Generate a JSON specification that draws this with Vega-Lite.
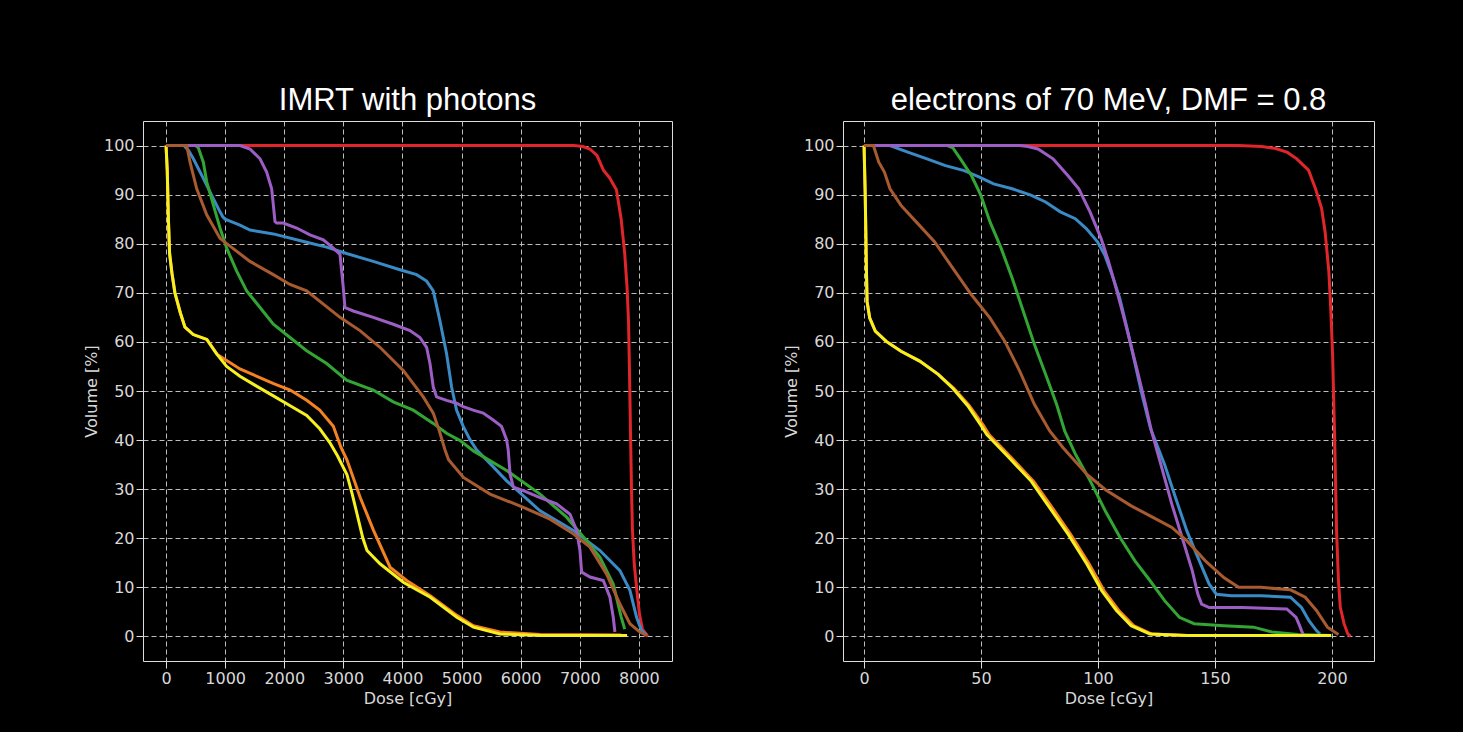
{
  "background": "#000000",
  "padding": {"left": 82, "top": 84, "right": 89, "bottom": 26},
  "spacing": 109,
  "hconcat": [
    {
      "width": 529,
      "height": 540,
      "title": "IMRT with photons",
      "layer": [
        {
          "data": {"values": [
      {"organ":"PTV","dose":0,"vol":100},{"organ":"PTV","dose":6900,"vol":100},{"organ":"PTV","dose":7050,"vol":99.8},{"organ":"PTV","dose":7170,"vol":99.3},{"organ":"PTV","dose":7290,"vol":98},{"organ":"PTV","dose":7400,"vol":95},{"organ":"PTV","dose":7500,"vol":93.5},{"organ":"PTV","dose":7620,"vol":91},{"organ":"PTV","dose":7700,"vol":85},{"organ":"PTV","dose":7760,"vol":78},{"organ":"PTV","dose":7800,"vol":71},{"organ":"PTV","dose":7825,"vol":64},{"organ":"PTV","dose":7845,"vol":51},{"organ":"PTV","dose":7860,"vol":40},{"organ":"PTV","dose":7875,"vol":30},{"organ":"PTV","dose":7890,"vol":22},{"organ":"PTV","dose":7920,"vol":15},{"organ":"PTV","dose":7960,"vol":10},{"organ":"PTV","dose":8010,"vol":4.5},{"organ":"PTV","dose":8060,"vol":1.5},{"organ":"PTV","dose":8150,"vol":0},
      {"organ":"rectum","dose":0,"vol":100},{"organ":"rectum","dose":300,"vol":100},{"organ":"rectum","dose":380,"vol":99},{"organ":"rectum","dose":462,"vol":97.3},{"organ":"rectum","dose":631,"vol":93.3},{"organ":"rectum","dose":800,"vol":89.2},{"organ":"rectum","dose":913,"vol":86.5},{"organ":"rectum","dose":960,"vol":85.5},{"organ":"rectum","dose":1000,"vol":85},{"organ":"rectum","dose":1082,"vol":84.6},{"organ":"rectum","dose":1251,"vol":83.8},{"organ":"rectum","dose":1420,"vol":82.8},{"organ":"rectum","dose":1815,"vol":82},{"organ":"rectum","dose":2379,"vol":80.3},{"organ":"rectum","dose":2717,"vol":79.3},{"organ":"rectum","dose":3055,"vol":78},{"organ":"rectum","dose":3506,"vol":76.4},{"organ":"rectum","dose":3957,"vol":74.7},{"organ":"rectum","dose":4239,"vol":73.7},{"organ":"rectum","dose":4408,"vol":72.4},{"organ":"rectum","dose":4521,"vol":70.4},{"organ":"rectum","dose":4634,"vol":64.3},{"organ":"rectum","dose":4746,"vol":57.6},{"organ":"rectum","dose":4831,"vol":50.8},{"organ":"rectum","dose":4915,"vol":46.1},{"organ":"rectum","dose":5028,"vol":42.8},{"organ":"rectum","dose":5141,"vol":40.1},{"organ":"rectum","dose":5254,"vol":38},{"organ":"rectum","dose":5500,"vol":35},{"organ":"rectum","dose":5763,"vol":31.7},{"organ":"rectum","dose":6327,"vol":25.6},{"organ":"rectum","dose":6890,"vol":21.6},{"organ":"rectum","dose":7341,"vol":17.5},{"organ":"rectum","dose":7679,"vol":13.4},{"organ":"rectum","dose":7848,"vol":9.4},{"organ":"rectum","dose":7961,"vol":3.9},{"organ":"rectum","dose":8045,"vol":1.2},{"organ":"rectum","dose":8130,"vol":0.3},
      {"organ":"anus","dose":0,"vol":100},{"organ":"anus","dose":500,"vol":100},{"organ":"anus","dose":547,"vol":99.5},{"organ":"anus","dose":631,"vol":96.6},{"organ":"anus","dose":688,"vol":92.6},{"organ":"anus","dose":800,"vol":87.9},{"organ":"anus","dose":913,"vol":83.2},{"organ":"anus","dose":1026,"vol":79.1},{"organ":"anus","dose":1195,"vol":74.4},{"organ":"anus","dose":1364,"vol":70.4},{"organ":"anus","dose":1590,"vol":67},{"organ":"anus","dose":1815,"vol":63.6},{"organ":"anus","dose":2097,"vol":60.9},{"organ":"anus","dose":2379,"vol":58.2},{"organ":"anus","dose":2717,"vol":55.6},{"organ":"anus","dose":3055,"vol":52.2},{"organ":"anus","dose":3506,"vol":50.2},{"organ":"anus","dose":3844,"vol":47.8},{"organ":"anus","dose":4183,"vol":46.1},{"organ":"anus","dose":4521,"vol":43.4},{"organ":"anus","dose":4746,"vol":41.4},{"organ":"anus","dose":4975,"vol":39.9},{"organ":"anus","dose":5200,"vol":37.8},{"organ":"anus","dose":5763,"vol":33.8},{"organ":"anus","dose":6327,"vol":29},{"organ":"anus","dose":6777,"vol":24.3},{"organ":"anus","dose":7115,"vol":19.5},{"organ":"anus","dose":7341,"vol":16.1},{"organ":"anus","dose":7566,"vol":10.7},{"organ":"anus","dose":7700,"vol":4},{"organ":"anus","dose":7760,"vol":1.5},
      {"organ":"bulb","dose":0,"vol":100},{"organ":"bulb","dose":1251,"vol":100},{"organ":"bulb","dose":1420,"vol":99.3},{"organ":"bulb","dose":1590,"vol":97.3},{"organ":"bulb","dose":1702,"vol":94.6},{"organ":"bulb","dose":1787,"vol":91.2},{"organ":"bulb","dose":1815,"vol":87.9},{"organ":"bulb","dose":1843,"vol":84.5},{"organ":"bulb","dose":1871,"vol":84.2},{"organ":"bulb","dose":1984,"vol":84.2},{"organ":"bulb","dose":2210,"vol":83.2},{"organ":"bulb","dose":2435,"vol":81.8},{"organ":"bulb","dose":2661,"vol":80.8},{"organ":"bulb","dose":2830,"vol":79.1},{"organ":"bulb","dose":2943,"vol":77.8},{"organ":"bulb","dose":2971,"vol":74.4},{"organ":"bulb","dose":2999,"vol":71},{"organ":"bulb","dose":3027,"vol":67},{"organ":"bulb","dose":3168,"vol":66.3},{"organ":"bulb","dose":3506,"vol":65},{"organ":"bulb","dose":3844,"vol":63.6},{"organ":"bulb","dose":4127,"vol":62.3},{"organ":"bulb","dose":4296,"vol":60.9},{"organ":"bulb","dose":4408,"vol":58.9},{"organ":"bulb","dose":4465,"vol":55.6},{"organ":"bulb","dose":4521,"vol":50.8},{"organ":"bulb","dose":4577,"vol":48.8},{"organ":"bulb","dose":4746,"vol":48.1},{"organ":"bulb","dose":4915,"vol":47.5},{"organ":"bulb","dose":5028,"vol":46.8},{"organ":"bulb","dose":5197,"vol":46.1},{"organ":"bulb","dose":5366,"vol":45.5},{"organ":"bulb","dose":5535,"vol":44.1},{"organ":"bulb","dose":5676,"vol":42.8},{"organ":"bulb","dose":5761,"vol":40.1},{"organ":"bulb","dose":5789,"vol":38},{"organ":"bulb","dose":5820,"vol":33.1},{"organ":"bulb","dose":5876,"vol":30.4},{"organ":"bulb","dose":6045,"vol":29.7},{"organ":"bulb","dose":6327,"vol":28.3},{"organ":"bulb","dose":6608,"vol":27},{"organ":"bulb","dose":6834,"vol":24.9},{"organ":"bulb","dose":6946,"vol":21.6},{"organ":"bulb","dose":7003,"vol":17.5},{"organ":"bulb","dose":7031,"vol":13.1},{"organ":"bulb","dose":7172,"vol":12.1},{"organ":"bulb","dose":7397,"vol":11.4},{"organ":"bulb","dose":7510,"vol":8},{"organ":"bulb","dose":7566,"vol":3.9},{"organ":"bulb","dose":7594,"vol":0.9},
      {"organ":"femur_dx","dose":0,"vol":100},{"organ":"femur_dx","dose":20,"vol":95},{"organ":"femur_dx","dose":40,"vol":85},{"organ":"femur_dx","dose":60,"vol":78},{"organ":"femur_dx","dose":100,"vol":74},{"organ":"femur_dx","dose":150,"vol":70},{"organ":"femur_dx","dose":240,"vol":66},{"organ":"femur_dx","dose":320,"vol":63},{"organ":"femur_dx","dose":460,"vol":61.5},{"organ":"femur_dx","dose":690,"vol":60.5},{"organ":"femur_dx","dose":860,"vol":57.5},{"organ":"femur_dx","dose":1250,"vol":54.5},{"organ":"femur_dx","dose":1820,"vol":51.5},{"organ":"femur_dx","dose":2100,"vol":50.2},{"organ":"femur_dx","dose":2380,"vol":48.1},{"organ":"femur_dx","dose":2600,"vol":46.1},{"organ":"femur_dx","dose":2830,"vol":42.8},{"organ":"femur_dx","dose":2960,"vol":38.5},{"organ":"femur_dx","dose":3060,"vol":36},{"organ":"femur_dx","dose":3285,"vol":28.3},{"organ":"femur_dx","dose":3510,"vol":21.6},{"organ":"femur_dx","dose":3790,"vol":14.1},{"organ":"femur_dx","dose":4070,"vol":11.4},{"organ":"femur_dx","dose":4470,"vol":8.3},{"organ":"femur_dx","dose":4920,"vol":4.3},{"organ":"femur_dx","dose":5200,"vol":2.2},{"organ":"femur_dx","dose":5650,"vol":0.9},{"organ":"femur_dx","dose":6330,"vol":0.4},{"organ":"femur_dx","dose":7700,"vol":0.3},
      {"organ":"femur_sx","dose":0,"vol":100},{"organ":"femur_sx","dose":20,"vol":95},{"organ":"femur_sx","dose":40,"vol":85},{"organ":"femur_sx","dose":60,"vol":78},{"organ":"femur_sx","dose":100,"vol":74},{"organ":"femur_sx","dose":150,"vol":70},{"organ":"femur_sx","dose":240,"vol":66},{"organ":"femur_sx","dose":320,"vol":63},{"organ":"femur_sx","dose":460,"vol":61.5},{"organ":"femur_sx","dose":690,"vol":60.5},{"organ":"femur_sx","dose":860,"vol":57.5},{"organ":"femur_sx","dose":1025,"vol":55},{"organ":"femur_sx","dose":1250,"vol":53},{"organ":"femur_sx","dose":1530,"vol":51},{"organ":"femur_sx","dose":1815,"vol":49},{"organ":"femur_sx","dose":2100,"vol":47},{"organ":"femur_sx","dose":2380,"vol":45},{"organ":"femur_sx","dose":2600,"vol":42.3},{"organ":"femur_sx","dose":2770,"vol":39.5},{"organ":"femur_sx","dose":2900,"vol":36.8},{"organ":"femur_sx","dose":3060,"vol":33},{"organ":"femur_sx","dose":3150,"vol":29},{"organ":"femur_sx","dose":3230,"vol":25},{"organ":"femur_sx","dose":3330,"vol":20},{"organ":"femur_sx","dose":3400,"vol":17.5},{"organ":"femur_sx","dose":3620,"vol":14.8},{"organ":"femur_sx","dose":4020,"vol":11},{"organ":"femur_sx","dose":4470,"vol":8},{"organ":"femur_sx","dose":4920,"vol":3.9},{"organ":"femur_sx","dose":5200,"vol":1.9},{"organ":"femur_sx","dose":5650,"vol":0.5},{"organ":"femur_sx","dose":6330,"vol":0.2},{"organ":"femur_sx","dose":7800,"vol":0.2},
      {"organ":"bladder","dose":0,"vol":100},{"organ":"bladder","dose":350,"vol":100},{"organ":"bladder","dose":406,"vol":96.6},{"organ":"bladder","dose":519,"vol":91.2},{"organ":"bladder","dose":688,"vol":85.9},{"organ":"bladder","dose":913,"vol":81.1},{"organ":"bladder","dose":1082,"vol":79.5},{"organ":"bladder","dose":1420,"vol":76.4},{"organ":"bladder","dose":1815,"vol":73.7},{"organ":"bladder","dose":2097,"vol":71.7},{"organ":"bladder","dose":2379,"vol":70.4},{"organ":"bladder","dose":2943,"vol":65},{"organ":"bladder","dose":3281,"vol":62.3},{"organ":"bladder","dose":3619,"vol":58.9},{"organ":"bladder","dose":4013,"vol":54.2},{"organ":"bladder","dose":4352,"vol":48.8},{"organ":"bladder","dose":4521,"vol":45.5},{"organ":"bladder","dose":4620,"vol":42},{"organ":"bladder","dose":4720,"vol":38},{"organ":"bladder","dose":4780,"vol":36},{"organ":"bladder","dose":5031,"vol":32.4},{"organ":"bladder","dose":5482,"vol":29},{"organ":"bladder","dose":6045,"vol":26.3},{"organ":"bladder","dose":6496,"vol":23.9},{"organ":"bladder","dose":6890,"vol":20.9},{"organ":"bladder","dose":7172,"vol":18.2},{"organ":"bladder","dose":7454,"vol":12.7},{"organ":"bladder","dose":7679,"vol":6.6},{"organ":"bladder","dose":7848,"vol":2.6},{"organ":"bladder","dose":8017,"vol":0.9},{"organ":"bladder","dose":8130,"vol":0.2}
          ]},
          "mark": {"type": "line", "strokeWidth": 3},
          "encoding": {
            "x": {"field": "dose", "type": "quantitative", "scale": {"domain": [-390, 8560], "nice": false, "zero": false},
                  "axis": {"values": [0,1000,2000,3000,4000,5000,6000,7000,8000], "format": "d", "title": "Dose [cGy]"}},
            "y": {"field": "vol", "type": "quantitative", "scale": {"domain": [-5, 105], "nice": false, "zero": false},
                  "axis": {"values": [0,10,20,30,40,50,60,70,80,90,100], "title": "Volume [%]"}},
            "color": {"field": "organ", "type": "nominal",
              "scale": {"domain": ["PTV","rectum","anus","bulb","femur_dx","femur_sx","bladder","95% 95%"],
                        "range": ["#e0262a","#3a8ac6","#33a534","#9c5ec4","#f58220","#f5f01e","#a85a30","#f5a623"]},
              "legend": null
            }
          }
        }
      ]
    },
    {
      "width": 531,
      "height": 540,
      "title": "electrons of 70 MeV, DMF = 0.8",
      "layer": [
        {
          "data": {"values": [
      {"organ":"PTV","dose":0,"vol":100},{"organ":"PTV","dose":160,"vol":100},{"organ":"PTV","dose":170,"vol":99.8},{"organ":"PTV","dose":176,"vol":99.4},{"organ":"PTV","dose":181,"vol":98.6},{"organ":"PTV","dose":185,"vol":97.3},{"organ":"PTV","dose":190,"vol":95},{"organ":"PTV","dose":193,"vol":91.2},{"organ":"PTV","dose":195.6,"vol":87.2},{"organ":"PTV","dose":197.1,"vol":82.4},{"organ":"PTV","dose":198.7,"vol":74.3},{"organ":"PTV","dose":199.5,"vol":66.9},{"organ":"PTV","dose":200.3,"vol":57.4},{"organ":"PTV","dose":201.1,"vol":42},{"organ":"PTV","dose":202,"vol":21.5},{"organ":"PTV","dose":202.8,"vol":11.4},{"organ":"PTV","dose":203.6,"vol":5.9},{"organ":"PTV","dose":205.2,"vol":2.6},{"organ":"PTV","dose":206.8,"vol":0.5},{"organ":"PTV","dose":208,"vol":0},
      {"organ":"rectum","dose":0,"vol":100},{"organ":"rectum","dose":11,"vol":100},{"organ":"rectum","dose":19,"vol":98.6},{"organ":"rectum","dose":26.9,"vol":97.3},{"organ":"rectum","dose":34.8,"vol":95.9},{"organ":"rectum","dose":42.8,"vol":94.9},{"organ":"rectum","dose":49.1,"vol":93.6},{"organ":"rectum","dose":55.4,"vol":92.2},{"organ":"rectum","dose":63.3,"vol":91.2},{"organ":"rectum","dose":71.3,"vol":89.9},{"organ":"rectum","dose":77.6,"vol":88.5},{"organ":"rectum","dose":83.9,"vol":86.5},{"organ":"rectum","dose":90.3,"vol":85.1},{"organ":"rectum","dose":95,"vol":83.1},{"organ":"rectum","dose":99.8,"vol":80.4},{"organ":"rectum","dose":102.9,"vol":77.7},{"organ":"rectum","dose":106.1,"vol":73.6},{"organ":"rectum","dose":109.3,"vol":68.9},{"organ":"rectum","dose":112.4,"vol":62.8},{"organ":"rectum","dose":115.6,"vol":56.1},{"organ":"rectum","dose":118.8,"vol":49.3},{"organ":"rectum","dose":122.5,"vol":42.3},{"organ":"rectum","dose":128.5,"vol":35},{"organ":"rectum","dose":133.2,"vol":28.2},{"organ":"rectum","dose":138,"vol":21.5},{"organ":"rectum","dose":142.7,"vol":16.1},{"organ":"rectum","dose":147.5,"vol":10.7},{"organ":"rectum","dose":150.6,"vol":8.6},{"organ":"rectum","dose":157,"vol":8.3},{"organ":"rectum","dose":169.6,"vol":8.3},{"organ":"rectum","dose":182.3,"vol":8},{"organ":"rectum","dose":187,"vol":5.9},{"organ":"rectum","dose":190.2,"vol":3.2},{"organ":"rectum","dose":193.4,"vol":1.2},{"organ":"rectum","dose":194.9,"vol":0.5},
      {"organ":"anus","dose":0,"vol":100},{"organ":"anus","dose":35.6,"vol":100},{"organ":"anus","dose":38,"vol":99.5},{"organ":"anus","dose":41.2,"vol":97.3},{"organ":"anus","dose":45.9,"vol":93.9},{"organ":"anus","dose":49.9,"vol":89.9},{"organ":"anus","dose":53.8,"vol":84.5},{"organ":"anus","dose":58.6,"vol":79.1},{"organ":"anus","dose":63.3,"vol":73},{"organ":"anus","dose":68.1,"vol":66.2},{"organ":"anus","dose":72.8,"vol":59.5},{"organ":"anus","dose":77.6,"vol":53.4},{"organ":"anus","dose":82.3,"vol":47.3},{"organ":"anus","dose":85.8,"vol":41.8},{"organ":"anus","dose":90.5,"vol":37},{"organ":"anus","dose":96.8,"vol":31.6},{"organ":"anus","dose":103.2,"vol":25.5},{"organ":"anus","dose":109.5,"vol":20.1},{"organ":"anus","dose":115.8,"vol":15.4},{"organ":"anus","dose":122.2,"vol":11.4},{"organ":"anus","dose":128.5,"vol":7.3},{"organ":"anus","dose":134.8,"vol":3.9},{"organ":"anus","dose":141.1,"vol":2.6},{"organ":"anus","dose":153.8,"vol":2.2},{"organ":"anus","dose":166.5,"vol":1.9},{"organ":"anus","dose":174.4,"vol":0.9},{"organ":"anus","dose":185.4,"vol":0.4},{"organ":"anus","dose":199.7,"vol":0.2},
      {"organ":"bulb","dose":0,"vol":100},{"organ":"bulb","dose":66.5,"vol":100},{"organ":"bulb","dose":70,"vol":99.8},{"organ":"bulb","dose":74.4,"vol":99.3},{"organ":"bulb","dose":80.8,"vol":97.3},{"organ":"bulb","dose":87.1,"vol":93.9},{"organ":"bulb","dose":91.8,"vol":91.2},{"organ":"bulb","dose":96.6,"vol":86.5},{"organ":"bulb","dose":101.3,"vol":81.1},{"organ":"bulb","dose":104.5,"vol":76.4},{"organ":"bulb","dose":107.7,"vol":71},{"organ":"bulb","dose":110.8,"vol":65.5},{"organ":"bulb","dose":114,"vol":59.5},{"organ":"bulb","dose":117.2,"vol":53.4},{"organ":"bulb","dose":120.3,"vol":47.3},{"organ":"bulb","dose":122.9,"vol":41.8},{"organ":"bulb","dose":126.9,"vol":35},{"organ":"bulb","dose":131.6,"vol":26.9},{"organ":"bulb","dose":136.4,"vol":19.5},{"organ":"bulb","dose":140.3,"vol":13.4},{"organ":"bulb","dose":142.7,"vol":8.6},{"organ":"bulb","dose":144.3,"vol":6.6},{"organ":"bulb","dose":147.5,"vol":5.9},{"organ":"bulb","dose":161.7,"vol":5.9},{"organ":"bulb","dose":180.7,"vol":5.6},{"organ":"bulb","dose":184.7,"vol":3.9},{"organ":"bulb","dose":186.2,"vol":2.2},{"organ":"bulb","dose":187,"vol":1.2},{"organ":"bulb","dose":187.8,"vol":0.4},
      {"organ":"femur_dx","dose":0,"vol":100},{"organ":"femur_dx","dose":0.5,"vol":90},{"organ":"femur_dx","dose":1,"vol":75},{"organ":"femur_dx","dose":1.3,"vol":68.2},{"organ":"femur_dx","dose":2.4,"vol":64.9},{"organ":"femur_dx","dose":4.8,"vol":62.2},{"organ":"femur_dx","dose":9.5,"vol":60.1},{"organ":"femur_dx","dose":15.8,"vol":58.1},{"organ":"femur_dx","dose":23.8,"vol":56.1},{"organ":"femur_dx","dose":31.7,"vol":53.4},{"organ":"femur_dx","dose":38.5,"vol":50.5},{"organ":"femur_dx","dose":45,"vol":47},{"organ":"femur_dx","dose":51,"vol":43},{"organ":"femur_dx","dose":53.5,"vol":41.1},{"organ":"femur_dx","dose":63,"vol":36.4},{"organ":"femur_dx","dose":72.5,"vol":31.6},{"organ":"femur_dx","dose":80.5,"vol":26.2},{"organ":"femur_dx","dose":88.3,"vol":20.8},{"organ":"femur_dx","dose":96.3,"vol":14.7},{"organ":"femur_dx","dose":102.6,"vol":9.3},{"organ":"femur_dx","dose":108.9,"vol":5.3},{"organ":"femur_dx","dose":115.2,"vol":2.2},{"organ":"femur_dx","dose":123,"vol":0.5},{"organ":"femur_dx","dose":138,"vol":0.2},{"organ":"femur_dx","dose":199,"vol":0.2},
      {"organ":"femur_sx","dose":0,"vol":100},{"organ":"femur_sx","dose":0.5,"vol":90},{"organ":"femur_sx","dose":1,"vol":75},{"organ":"femur_sx","dose":1.3,"vol":68.2},{"organ":"femur_sx","dose":2.4,"vol":64.9},{"organ":"femur_sx","dose":4.8,"vol":62.2},{"organ":"femur_sx","dose":9.5,"vol":60.1},{"organ":"femur_sx","dose":15.8,"vol":58.1},{"organ":"femur_sx","dose":23.8,"vol":56.1},{"organ":"femur_sx","dose":31.7,"vol":53.4},{"organ":"femur_sx","dose":38,"vol":50.5},{"organ":"femur_sx","dose":44.3,"vol":47},{"organ":"femur_sx","dose":50,"vol":43},{"organ":"femur_sx","dose":52.5,"vol":41.1},{"organ":"femur_sx","dose":62,"vol":36.4},{"organ":"femur_sx","dose":71.5,"vol":31.6},{"organ":"femur_sx","dose":79.4,"vol":26.2},{"organ":"femur_sx","dose":87.3,"vol":20.8},{"organ":"femur_sx","dose":95.3,"vol":14.7},{"organ":"femur_sx","dose":101.6,"vol":9.3},{"organ":"femur_sx","dose":107.9,"vol":5.3},{"organ":"femur_sx","dose":114.2,"vol":2.2},{"organ":"femur_sx","dose":122.2,"vol":0.5},{"organ":"femur_sx","dose":138,"vol":0.2},{"organ":"femur_sx","dose":199.7,"vol":0.2},
      {"organ":"bladder","dose":0,"vol":100},{"organ":"bladder","dose":4,"vol":100},{"organ":"bladder","dose":6.3,"vol":96.6},{"organ":"bladder","dose":8.7,"vol":94.6},{"organ":"bladder","dose":11.1,"vol":91.2},{"organ":"bladder","dose":15.8,"vol":87.8},{"organ":"bladder","dose":22.2,"vol":84.5},{"organ":"bladder","dose":30.1,"vol":80.4},{"organ":"bladder","dose":38,"vol":75},{"organ":"bladder","dose":45.9,"vol":69.6},{"organ":"bladder","dose":53.8,"vol":64.9},{"organ":"bladder","dose":60.2,"vol":60.1},{"organ":"bladder","dose":66.5,"vol":54.1},{"organ":"bladder","dose":72.8,"vol":47.3},{"organ":"bladder","dose":79.3,"vol":41.9},{"organ":"bladder","dose":85,"vol":38.5},{"organ":"bladder","dose":88.9,"vol":36.4},{"organ":"bladder","dose":95.3,"vol":33},{"organ":"bladder","dose":103.2,"vol":29.9},{"organ":"bladder","dose":114.2,"vol":26.6},{"organ":"bladder","dose":123.7,"vol":24.2},{"organ":"bladder","dose":131.6,"vol":22.2},{"organ":"bladder","dose":138,"vol":19.5},{"organ":"bladder","dose":145.9,"vol":15.4},{"organ":"bladder","dose":153.8,"vol":12},{"organ":"bladder","dose":160.1,"vol":10},{"organ":"bladder","dose":169.6,"vol":10},{"organ":"bladder","dose":182.3,"vol":9.5},{"organ":"bladder","dose":188.6,"vol":8},{"organ":"bladder","dose":193.4,"vol":5.3},{"organ":"bladder","dose":198.1,"vol":1.9},{"organ":"bladder","dose":202.8,"vol":0.4}
          ]},
          "mark": {"type": "line", "strokeWidth": 3},
          "encoding": {
            "x": {"field": "dose", "type": "quantitative", "scale": {"domain": [-9, 218], "nice": false, "zero": false},
                  "axis": {"values": [0,50,100,150,200], "format": "d", "title": "Dose [cGy]"}},
            "y": {"field": "vol", "type": "quantitative", "scale": {"domain": [-5, 105], "nice": false, "zero": false},
                  "axis": {"values": [0,10,20,30,40,50,60,70,80,90,100], "title": "Volume [%]"}},
            "color": {"field": "organ", "type": "nominal",
              "scale": {"domain": ["PTV","rectum","anus","bulb","femur_dx","femur_sx","bladder","95% 95%"],
                        "range": ["#e0262a","#3a8ac6","#33a534","#9c5ec4","#f58220","#f5f01e","#a85a30","#f5a623"]},
              "legend": null
            }
          }
        }
      ]
    }
  ],
  "config": {
    "font": "DejaVu Sans",
    "axis": {
      "grid": true, "gridColor": "#bdbdbd", "gridDash": [5, 3],
      "domain": false, "tickColor": "#dddddd", "tickSize": 7,
      "labelColor": "#d8d8d8", "labelFontSize": 16,
      "titleColor": "#d8d8d8", "titleFontSize": 16, "titleFontWeight": "normal"
    },
    "title": {"font": "Liberation Sans", "fontSize": 31, "fontWeight": "normal", "color": "#ffffff"}
  }
}
